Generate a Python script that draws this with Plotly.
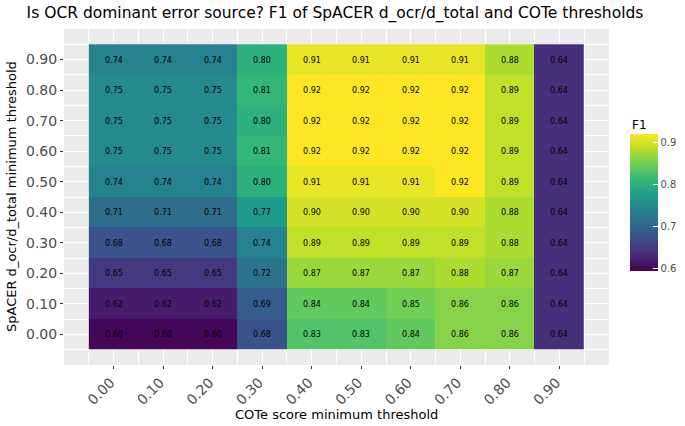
import plotly.graph_objects as go

# COTe score thresholds (x) and SpACER d_ocr/d_total thresholds (y)
x_labels = ["0.00", "0.10", "0.20", "0.30", "0.40", "0.50", "0.60", "0.70", "0.80", "0.90"]
y_labels = ["0.00", "0.10", "0.20", "0.30", "0.40", "0.50", "0.60", "0.70", "0.80", "0.90"]

# F1 values, one list per y threshold (bottom row first)
f1_y000 = [0.60, 0.60, 0.60, 0.68, 0.83, 0.83, 0.84, 0.86, 0.86, 0.64]
f1_y010 = [0.62, 0.62, 0.62, 0.69, 0.84, 0.84, 0.85, 0.86, 0.86, 0.64]
f1_y020 = [0.65, 0.65, 0.65, 0.72, 0.87, 0.87, 0.87, 0.88, 0.87, 0.64]
f1_y030 = [0.68, 0.68, 0.68, 0.74, 0.89, 0.89, 0.89, 0.89, 0.88, 0.64]
f1_y040 = [0.71, 0.71, 0.71, 0.77, 0.90, 0.90, 0.90, 0.90, 0.88, 0.64]
f1_y050 = [0.74, 0.74, 0.74, 0.80, 0.91, 0.91, 0.91, 0.92, 0.89, 0.64]
f1_y060 = [0.75, 0.75, 0.75, 0.81, 0.92, 0.92, 0.92, 0.92, 0.89, 0.64]
f1_y070 = [0.75, 0.75, 0.75, 0.80, 0.92, 0.92, 0.92, 0.92, 0.89, 0.64]
f1_y080 = [0.75, 0.75, 0.75, 0.81, 0.92, 0.92, 0.92, 0.92, 0.89, 0.64]
f1_y090 = [0.74, 0.74, 0.74, 0.80, 0.91, 0.91, 0.91, 0.91, 0.88, 0.64]

z = [f1_y000, f1_y010, f1_y020, f1_y030, f1_y040,
     f1_y050, f1_y060, f1_y070, f1_y080, f1_y090]

xi = list(range(len(x_labels)))
yi = list(range(len(y_labels)))

W, H = 685, 426
L, R, T, B = 64, 76, 29, 61
pw, ph = W - L - R, H - T - B

tick_col = "#4D4D4D"

fig = go.Figure(go.Heatmap(
    x=xi, y=yi, z=z,
    colorscale="Viridis", zmin=0.5955, zmax=0.92,
    texttemplate="%{z:.2f}",
    textfont=dict(size=8, color="black", family="DejaVu Sans"),
    colorbar=dict(
        xref="paper", x=(630 - L) / pw, xanchor="left", xpad=0,
        yref="paper", y=(H - B - 202.3) / ph, yanchor="middle", ypad=0,
        lenmode="pixels", len=136.7, thickness=28,
        outlinewidth=0,
        tickvals=[0.6, 0.7, 0.8, 0.9], ticktext=["0.6", "0.7", "0.8", "0.9"],
        ticks="inside", ticklen=5, tickcolor="white", tickwidth=1,
        tickfont=dict(size=10, color=tick_col),
    ),
    hoverinfo="x+y+z",
))

axis_common = dict(
    showgrid=True, gridcolor="white", gridwidth=1.1,
    zeroline=False, showline=False,
    ticks="outside", ticklen=3, tickcolor="#333333", tickwidth=1,
    tickfont=dict(size=14, color=tick_col),
    automargin=False,
)

fig.update_xaxes(
    range=[-1, 10], tickmode="array", tickvals=xi, ticktext=x_labels,
    tickangle=-45, ticklabelshift=-3,
    minor=dict(tickmode="array", tickvals=[v - 0.5 for v in xi] + [9.5],
               showgrid=True, gridcolor="white", gridwidth=0.5, ticks=""),
    **axis_common,
)
fig.update_yaxes(
    range=[-1, 10], tickmode="array", tickvals=yi, ticktext=y_labels,
    minor=dict(tickmode="array", tickvals=[v - 0.5 for v in yi] + [9.5],
               showgrid=True, gridcolor="white", gridwidth=0.5, ticks=""),
    **axis_common,
)

fig.update_layout(
    width=W, height=H,
    margin=dict(l=L, r=R, t=T, b=B, autoexpand=False),
    paper_bgcolor="white", plot_bgcolor="#EBEBEB",
    font=dict(family="DejaVu Sans", color="black"),
    title=dict(
        text="Is OCR dominant error source? F1 of SpACER d_ocr/d_total and COTe thresholds",
        xref="container", x=335 / W, xanchor="center",
        yref="container", y=1 - 12.5 / H, yanchor="middle",
        font=dict(size=15.5, color="black"),
    ),
    annotations=[
        dict(text="COTe score minimum threshold", xref="paper", yref="paper",
             x=0.5, y=(H - B - 414) / ph, xanchor="center", yanchor="middle",
             showarrow=False, font=dict(size=13, color="black")),
        dict(text="SpACER d_ocr/d_total minimum threshold", xref="paper", yref="paper",
             x=(11 - L) / pw, y=0.5, xanchor="center", yanchor="middle",
             textangle=-90, showarrow=False, font=dict(size=13, color="black")),
        dict(text="F1", xref="paper", yref="paper",
             x=(630 - L) / pw, y=(H - B - 125) / ph, xanchor="left", yanchor="middle",
             showarrow=False, font=dict(size=12, color="black")),
    ],
)

fig.write_html("out.html")
